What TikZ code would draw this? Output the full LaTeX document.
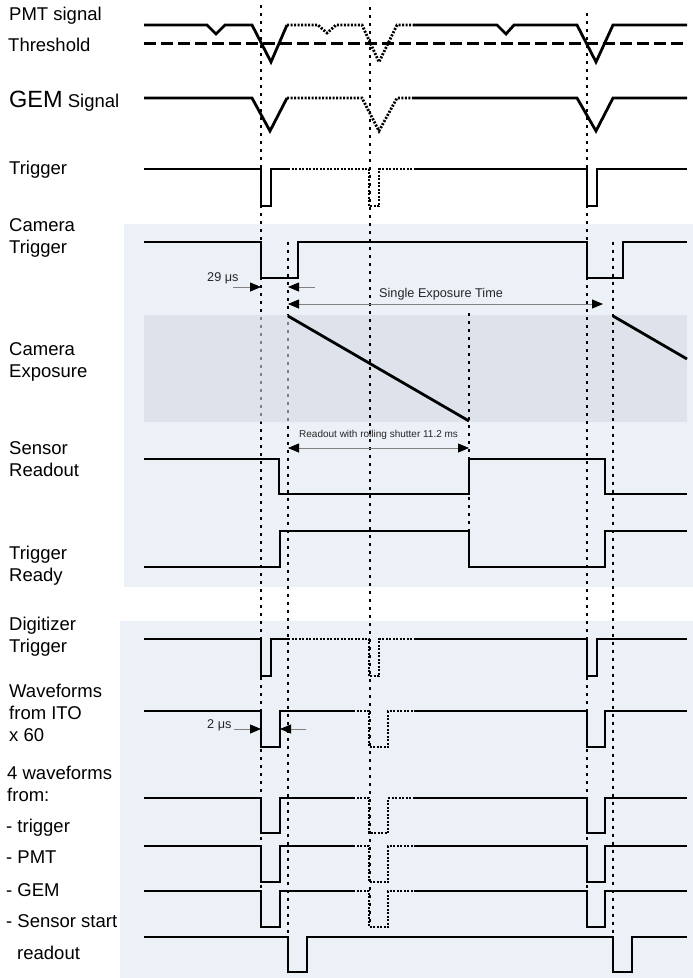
\documentclass[tikz,border=0pt]{standalone}
\usepackage{fontspec}
\setmainfont{Liberation Sans}
\usetikzlibrary{arrows.meta}
\definecolor{regionbg}{HTML}{ECF1F8}
\definecolor{bandc}{RGB}{213,216,225}
\definecolor{dimgray}{HTML}{808080}
\tikzset{
  sig/.style={line width=2.8bp, black},
  hyp/.style={line width=2.8bp, black, dash pattern=on 2bp off 1.5bp},
  guide/.style={line width=2.8bp, black, dash pattern=on 2.8bp off 5.2bp},
  thr/.style={line width=2.8bp, black, dash pattern=on 12bp off 5bp},
  lbl/.style={anchor=base west, inner sep=0pt, font=\fontsize{18.5bp}{22bp}\selectfont},
  smalltxt/.style={anchor=base west, inner sep=0pt, text=black!85, font=\fontsize{12.7bp}{15bp}\selectfont},
  tinytxt/.style={anchor=base west, inner sep=0pt, text=black!85, font=\fontsize{10bp}{12bp}\selectfont},
  tip/.tip={Triangle[length=11bp,width=9bp,color=black]},
  dimone/.style={dimgray, line width=0.8bp, -tip},
  dimtwo/.style={dimgray, line width=0.8bp, tip-tip},
}
\begin{document}
\begin{tikzpicture}[x=1bp,y=-1bp]
\useasboundingbox (0,0) rectangle (693,978);
% background regions
\fill[regionbg] (124,224) rectangle (693,587);
\fill[regionbg] (120,621) rectangle (693,978);

% guides drawn under the exposure band
\coordinate (gA1) at (261,5);   \coordinate (gA2) at (261,927);
\coordinate (gB1) at (288,242); \coordinate (gB2) at (288,933);
\draw[guide] (gA1) -- (gA2);
\draw[guide] (gB1) -- (gB2);

% exposure band
\fill[bandc, fill opacity=0.6] (144,315) rectangle (687,422);

% other guides
\coordinate (gC1) at (370,7);   \coordinate (gC2) at (370,927);
\coordinate (gD1) at (469,313); \coordinate (gD2) at (469,535);
\coordinate (gE1) at (587,13);  \coordinate (gE2) at (587,927);
\coordinate (gF1) at (613,242); \coordinate (gF2) at (613,933);
\draw[guide] (gC1) -- (gC2);
\draw[guide] (gD1) -- (gD2);
\draw[guide] (gE1) -- (gE2);
\draw[guide] (gF1) -- (gF2);

% labels
\node[lbl] (lpmt) at (9,20.5) {PMT signal};
\node[lbl] (lthr) at (8,51) {Threshold};
\node[lbl] (lgem) at (9,107) {{\fontsize{23.5bp}{26bp}\selectfont GEM} Signal};
\node[lbl] (ltrg) at (9,174) {Trigger};
\node[lbl] (lcam1) at (9,231) {Camera};
\node[lbl] (lcam2) at (9,253) {Trigger};
\node[lbl] (lexp1) at (9,355) {Camera};
\node[lbl] (lexp2) at (9,377) {Exposure};
\node[lbl] (lsr1) at (9,454) {Sensor};
\node[lbl] (lsr2) at (9,476) {Readout};
\node[lbl] (ltr1) at (9,559) {Trigger};
\node[lbl] (ltr2) at (9,581) {Ready};
\node[lbl] (ldig1) at (9,630) {Digitizer};
\node[lbl] (ldig2) at (9,652) {Trigger};
\node[lbl] (lito1) at (9,697) {Waveforms};
\node[lbl] (lito2) at (9,719) {from ITO};
\node[lbl] (lito3) at (9,741) {x 60};
\node[lbl] (lfw1) at (7,779) {4 waveforms};
\node[lbl] (lfw2) at (7,801) {from:};
\node[lbl] (lfw3) at (6,832) {- trigger};
\node[lbl] (lfw4) at (6,863) {- PMT};
\node[lbl] (lfw5) at (6,896) {- GEM};
\node[lbl] (lfw6) at (6,927) {- Sensor start};
\node[lbl] (lfw7) at (17,959) {readout};

% PMT signal
\draw[sig] (144,25)--(207,25)--(216,34)--(225,25)--(252,25)--(271,62)--(287,25);
\draw[hyp] (287,25)--(318,25)--(327,33)--(336,25)--(362,25)--(379,62)--(397,25)--(414,25);
\draw[sig] (414,25)--(497,25)--(506,34)--(514,25)--(577,25)--(596,62)--(613,25)--(687,25);
% threshold
\draw[thr] (144,43.5)--(687,43.5);
% GEM signal
\draw[sig] (144,98)--(252,98)--(270,131)--(287,98);
\draw[hyp] (287,98)--(362,98)--(379,131)--(397,98)--(414,98);
\draw[sig] (414,98)--(577,98)--(596,131)--(613,98)--(687,98);
% Trigger
\draw[sig] (144,169)--(261,169)--(261,206)--(271,206)--(271,169)--(288,169);
\draw[hyp] (288,169)--(369,169)--(369,206)--(379,206)--(379,169)--(414,169);
\draw[sig] (414,169)--(587,169)--(587,206)--(597,206)--(597,169)--(687,169);
% Camera trigger
\draw[sig] (144,242)--(261,242)--(261,278)--(298,278)--(298,242)--(587,242)--(587,278)--(623,278)--(623,242)--(687,242);
% Rolling shutter
\draw[sig] (288,316)--(469,421);
\draw[sig] (613,316)--(687,359);
% Sensor readout
\draw[sig] (144,459)--(279,459)--(279,494)--(469,494)--(469,459)--(605,459)--(605,494)--(687,494);
% Trigger ready
\draw[sig] (144,567)--(280,567)--(280,531)--(469,531)--(469,567)--(605,567)--(605,531)--(687,531);
% Digitizer trigger
\draw[sig] (144,639)--(261,639)--(261,676)--(271,676)--(271,639)--(288,639);
\draw[hyp] (288,639)--(369,639)--(369,676)--(379,676)--(379,639)--(414,639);
\draw[sig] (414,639)--(587,639)--(587,676)--(597,676)--(597,639)--(687,639);
% Waveform-type rows
\foreach \hi/\lo in {711/747, 798/833, 846/882, 891/927}{
  \draw[sig] (144,\hi)--(261,\hi)--(261,\lo)--(280,\lo)--(280,\hi)--(353,\hi);
  \draw[hyp] (353,\hi)--(369,\hi)--(369,\lo)--(388,\lo)--(388,\hi)--(414,\hi);
  \draw[sig] (414,\hi)--(587,\hi)--(587,\lo)--(605,\lo)--(605,\hi)--(687,\hi);
}
% Sensor start readout
\draw[sig] (144,937)--(288,937)--(288,972)--(307,972)--(307,937)--(613,937)--(613,972)--(632,972)--(632,937)--(687,937);

% annotations
\node[smalltxt] (t29) at (207,281) {29 μs};
\coordinate (a29l) at (233,287); \coordinate (a29lt) at (261,287);
\coordinate (a29r) at (315,287); \coordinate (a29rt) at (288,287);
\draw[dimone] (a29l) -- (a29lt);
\draw[dimone] (a29r) -- (a29rt);

\node[smalltxt] (tset) at (379,297) {Single Exposure Time};
\coordinate (setl) at (288,304); \coordinate (setr) at (603,304);
\draw[dimtwo] (setl) -- (setr);

\node[tinytxt] (trd) at (299,437) {Readout with rolling shutter 11.2 ms};
\coordinate (rdl) at (288,448); \coordinate (rdr) at (469,448);
\draw[dimtwo] (rdl) -- (rdr);

\node[smalltxt] (t2) at (207,728) {2 μs};
\coordinate (a2l) at (234,729); \coordinate (a2lt) at (261,729);
\coordinate (a2r) at (306,729); \coordinate (a2rt) at (280,729);
\draw[dimone] (a2l) -- (a2lt);
\draw[dimone] (a2r) -- (a2rt);
\end{tikzpicture}
\end{document}
